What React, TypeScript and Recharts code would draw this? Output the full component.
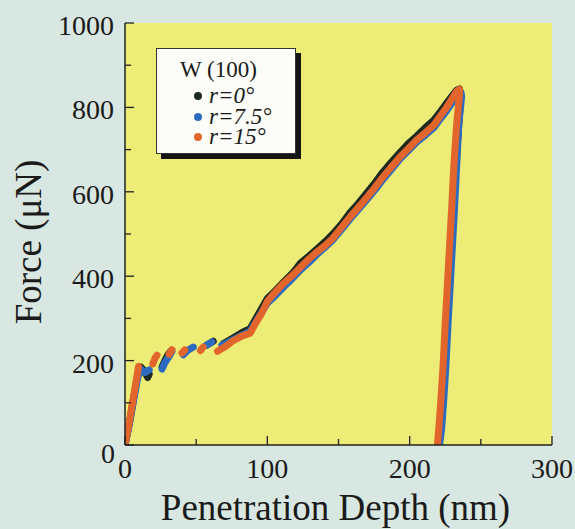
import { ComposedChart, Line, XAxis, YAxis, CartesianGrid } from "recharts";

// r = 0 deg (black)
const r0Depth = [0, 3, 6, 9, 11, 13, 16, 17, 17, 26, 28, 30, 32, 32, 57, 62, 62, 69, 75, 82, 88, 92, 100, 106, 112, 118, 123, 129, 135, 141, 146, 152, 158, 164, 170, 176, 181, 187, 193, 199, 205, 211, 217, 222, 226, 230, 233, 235, 236, 234.5, 232.5, 231, 229.5, 228, 226.5, 225, 223.5, 222, 220.5];
const r0Force = [0, 50, 110, 168, 185, 178, 160, 168, null, 185, 200, 213, 222, null, 236, 246, null, 240, 252, 266, 276, 300, 347, 367, 388, 408, 430, 447, 465, 483, 500, 523, 550, 573, 598, 623, 646, 670, 692, 714, 732, 752, 770, 792, 810, 828, 841, 844, 830, 760, 660, 560, 470, 380, 290, 190, 110, 40, 0];

// r = 7.5 deg (blue)
const r7Depth = [0, 3, 6, 9, 11, 14, 17, 17, 26, 28, 31, 33, 33, 41, 44, 48, 48, 57, 61, 61, 68, 75, 82, 88, 92, 100, 106, 112, 118, 123, 129, 135, 141, 146, 152, 158, 164, 170, 176, 181, 187, 193, 199, 205, 211, 217, 222, 226, 230, 233, 236, 236.5, 234.5, 233, 231.5, 230, 228.5, 227, 225.5, 224, 222.5, 221];
const r7Force = [0, 48, 105, 160, 180, 172, 178, null, 180, 195, 210, 222, null, 214, 224, 232, null, 236, 244, null, 236, 248, 260, 270, 292, 336, 355, 376, 396, 414, 432, 452, 470, 486, 510, 535, 558, 582, 606, 628, 652, 677, 697, 718, 734, 752, 775, 792, 812, 830, 836, 825, 760, 660, 560, 470, 380, 290, 190, 110, 40, 0];

// r = 15 deg (orange)
const r15Depth = [0, 3, 6, 8.5, 9.5, 9.5, 19.5, 21, 22.5, 22.5, 31, 33, 33, 40, 42, 42, 53, 55, 55, 65, 70, 76, 82, 88, 92, 96, 100, 105, 111, 117, 123, 129, 135, 141, 146, 152, 158, 164, 170, 176, 181, 187, 193, 199, 205, 211, 217, 222, 226, 230, 233, 235, 235, 233, 231, 229.5, 228, 226.5, 225, 223.5, 222, 220.5, 219.5];
const r15Force = [0, 55, 115, 165, 186, null, 192, 205, 213, null, 215, 226, null, 218, 225, null, 224, 232, null, 222, 232, 247, 258, 265, 290, 312, 340, 360, 382, 400, 420, 440, 458, 474, 490, 515, 540, 563, 587, 612, 634, 658, 682, 702, 723, 740, 758, 782, 800, 822, 838, 843, 830, 760, 660, 560, 470, 380, 290, 190, 110, 40, 0];

const xTicks = [0, 50, 100, 150, 200, 250, 300];
const yTicks = [0, 100, 200, 300, 400, 500, 600, 700, 800, 900, 1000];

const legendItems = [
  { label: "r=0°", color: "#1c2a20" },
  { label: "r=7.5°", color: "#2d6bc0" },
  { label: "r=15°", color: "#e2662c" },
];

const toPoints = (depth: number[], force: (number | null)[]) =>
  depth.map((d, i) => ({ depth: d, force: force[i] }));

const r0Data = toPoints(r0Depth, r0Force);
const r7Data = toPoints(r7Depth, r7Force);
const r15Data = toPoints(r15Depth, r15Force);

const FONT = '"Liberation Serif", "Times New Roman", serif';
const INK = "#222";

const BottomTick = ({ x, y, payload }: any) => {
  const major = payload.value % 100 === 0;
  return (
    <g>
      <line x1={x} y1={y} x2={x} y2={y - (major ? 9 : 6)} stroke={INK} strokeWidth={1.3} />
      {major && (
        <text x={x} y={y + 33} textAnchor="middle" fontSize={28} fontFamily={FONT} fill="#1a1a1a">
          {payload.value}
        </text>
      )}
    </g>
  );
};

const TopTick = ({ x, y, payload }: any) => {
  const major = payload.value % 100 === 0;
  return <line x1={x} y1={y} x2={x} y2={y + (major ? 9 : 6)} stroke={INK} strokeWidth={1.3} />;
};

const LeftTick = ({ x, y, payload }: any) => {
  const major = payload.value % 200 === 0;
  return (
    <g>
      <line x1={x} y1={y} x2={x + (major ? 9 : 6)} y2={y} stroke={INK} strokeWidth={1.3} />
      {major && (
        <text
          x={payload.value === 0 ? x - 10 : x - 11}
          y={payload.value === 0 ? y + 18 : y + 12}
          textAnchor="end"
          fontSize={28}
          fontFamily={FONT}
          fill="#1a1a1a"
        >
          {payload.value}
        </text>
      )}
    </g>
  );
};

const RightTick = ({ x, y, payload }: any) => {
  const major = payload.value % 200 === 0;
  return <line x1={x} y1={y} x2={x - (major ? 9 : 6)} y2={y} stroke={INK} strokeWidth={1.3} />;
};

const XTitle = ({ viewBox }: any) => (
  <text
    x={viewBox.x + viewBox.width / 2 - 3}
    y={viewBox.y + 75}
    textAnchor="middle"
    fontSize={37}
    fontFamily={FONT}
    fill="#1a1a1a"
  >
    Penetration Depth (nm)
  </text>
);

const YTitle = () => (
  <text
    x={0}
    y={0}
    transform="translate(41, 242) rotate(-90)"
    textAnchor="middle"
    fontSize={37}
    fontFamily={FONT}
    fill="#1a1a1a"
  >
    Force (μN)
  </text>
);

export default function App() {
  return (
    <div style={{ position: "relative", width: 575, height: 529, background: "#d8e7e1", overflow: "hidden" }}>
      <style>{`html, body { margin: 0; padding: 0; }`}</style>
      <ComposedChart width={575} height={529} margin={{ top: 23, right: 23, left: 0, bottom: 0 }}>
        <CartesianGrid horizontal={false} vertical={false} fill="#ecec76" />
        <XAxis
          dataKey="depth"
          type="number"
          domain={[0, 300]}
          ticks={xTicks}
          allowDataOverflow
          height={84}
          tickSize={0}
          tickMargin={0}
          tick={<BottomTick />}
          axisLine={{ stroke: INK, strokeWidth: 1.5 }}
          label={<XTitle />}
        />
        <XAxis
          xAxisId="top"
          orientation="top"
          type="number"
          domain={[0, 300]}
          ticks={xTicks}
          height={0}
          tickSize={0}
          tickMargin={0}
          tick={<TopTick />}
          axisLine={{ stroke: INK, strokeWidth: 1.5 }}
        />
        <YAxis
          type="number"
          domain={[0, 1000]}
          ticks={yTicks}
          allowDataOverflow
          width={125}
          tickSize={0}
          tickMargin={0}
          tick={<LeftTick />}
          axisLine={{ stroke: INK, strokeWidth: 1.5 }}
          label={<YTitle />}
        />
        <YAxis
          yAxisId="right"
          orientation="right"
          type="number"
          domain={[0, 1000]}
          ticks={yTicks}
          width={0}
          tickSize={0}
          tickMargin={0}
          tick={<RightTick />}
          axisLine={{ stroke: INK, strokeWidth: 1.5 }}
        />
        <Line data={r0Data} dataKey="force" stroke="#1c2a20" strokeWidth={7} dot={false} strokeLinecap="round" strokeLinejoin="round" connectNulls={false} isAnimationActive={false} />
        <Line data={r7Data} dataKey="force" stroke="#2d6bc0" strokeWidth={7} dot={false} strokeLinecap="round" strokeLinejoin="round" connectNulls={false} isAnimationActive={false} />
        <Line data={r15Data} dataKey="force" stroke="#e2662c" strokeWidth={7} dot={false} strokeLinecap="round" strokeLinejoin="round" connectNulls={false} isAnimationActive={false} />
      </ComposedChart>
      <div
        style={{
          position: "absolute",
          left: 156,
          top: 48,
          width: 140,
          height: 106,
          background: "#fcfcf8",
          border: "1px solid #333",
          boxShadow: "5px 5px 0 #151515",
          fontFamily: FONT,
          color: "#1a1a1a",
          boxSizing: "border-box",
        }}
      >
        <div style={{ position: "absolute", left: 23, top: 9, fontSize: 23, lineHeight: "24px" }}>W (100)</div>
        {legendItems.map((item, i) => (
          <div key={item.label} style={{ position: "absolute", left: 37, top: 39 + i * 20.5, height: 16, display: "flex", alignItems: "center" }}>
            <span style={{ width: 8, height: 8, borderRadius: 4, background: item.color, marginRight: 7 }} />
            <span style={{ fontSize: 23, fontStyle: "italic", lineHeight: "16px" }}>{item.label}</span>
          </div>
        ))}
      </div>
    </div>
  );
}
